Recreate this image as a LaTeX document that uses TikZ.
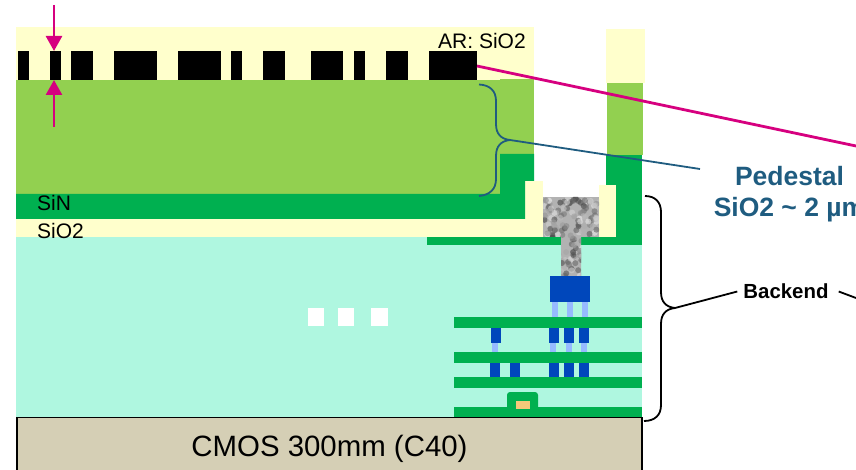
\documentclass[tikz,border=0pt]{standalone}
\usepackage{fontspec}
\setmainfont{Liberation Sans}
\usetikzlibrary{arrows.meta,positioning}
\definecolor{Cream}{HTML}{FFFFCC}
\definecolor{Oxide}{HTML}{92D050}
\definecolor{Nitride}{HTML}{00B050}
\definecolor{Teal}{HTML}{AFF7E0}
\definecolor{Metal}{HTML}{0047BB}
\definecolor{Via}{HTML}{96BBFF}
\definecolor{Gate}{HTML}{F5C97A}
\definecolor{Sub}{HTML}{D5CFB5}
\definecolor{Pink}{HTML}{D6007F}
\definecolor{Navy}{HTML}{1F5C80}

\begin{document}
\begin{tikzpicture}[
  x=1pt, y=-1pt,
  >=Latex,
  lbl/.style={inner sep=0pt, font=\fontsize{21}{24}\selectfont},
  pedcap/.style={inner sep=0pt, align=center, text=Navy, font=\fontsize{26.5}{31}\selectfont\bfseries},
  pinkarr/.style={-{Triangle[length=15pt,width=16pt]}, line width=2.6pt, draw=Pink},
  bluebr/.style={line width=1.8pt, draw=Navy},
  blackbr/.style={line width=1.8pt, draw=black},
]
\useasboundingbox (0,0) rectangle (856,470);
% layers
\fill[Cream] (16,27) rectangle (534,80);
\foreach \a/\b in {18/29,50/61,71/93,114/157,178/221,231/242,263/285,311/343,354/365,386/408}
  \fill[black] (\a,51) rectangle (\b,80);
\fill[black] (429,51) rectangle (477,82);
\fill[Oxide] (16,80) rectangle (500,194);
\fill[Oxide] (500,79) rectangle (534,154);
\fill[Teal] (16,237) rectangle (642,417);
\fill[Cream] (16,219) rectangle (543,237);
\fill[Cream] (525,181) rectangle (543,219);
\fill[Nitride] (16,194) -- (500,194) -- (500,154) -- (534,154) -- (534,181) -- (525,181) -- (525,219) -- (16,219) -- cycle;
\fill[Nitride] (427,237) rectangle (642,245);
% right column
\fill[Cream] (606,29) rectangle (645,83);
\fill[Oxide] (607,83) rectangle (643,155);
\fill[Nitride] (606,155) rectangle (642,245);
\fill[Cream] (599,185) rectangle (616,237);
% tungsten plug
\begin{scope}
  \clip (543,197) rectangle (599,237) (561,237) rectangle (581,276);
  \fill[black!30] (543,197) rectangle (599,276);
  \pgfmathsetseed{17}
  \foreach \i in {1,...,210}{
    \pgfmathsetmacro{\px}{543+56*rnd}
    \pgfmathsetmacro{\py}{197+79*rnd}
    \pgfmathsetmacro{\tn}{int(5+70*rnd)}
    \fill[black!\tn, opacity=0.6] (\px,\py) circle (3pt);
  }
\end{scope}
% metal levels
\foreach \a/\b in {317/328,352/363,377/388,407/417}
  \fill[Nitride] (454,\a) rectangle (642,\b);
\fill[Nitride, rounded corners=3pt] (507,410) -- (507,392) -- (538,392) -- (538,410) -- cycle;
\fill[Gate] (515.5,401) rectangle (529.5,409);
\fill[Metal] (550,276) rectangle (590,302);
\foreach \a in {552,567,582}
  \fill[Via] (\a,302) rectangle (\a+6,317);
\foreach \a in {491,549,564,579}
  \fill[Metal] (\a,328) rectangle (\a+10,343);
\foreach \a in {492,550,566,581}
  \fill[Via] (\a,343) rectangle (\a+6,352);
\foreach \a in {490,510,549,564,579}
  \fill[Metal] (\a,363) rectangle (\a+10,377);
\foreach \a/\b in {308/324,338/354,371/388}
  \fill[white] (\a,308) rectangle (\b,326);
% substrate
\node[draw=black, line width=1.5pt, fill=Sub, minimum width=625pt, minimum height=54pt, inner sep=0pt, text height=23pt, text depth=0pt, font=\fontsize{29.4}{32}\selectfont] (cmos) at (329.5,444.5) {CMOS 300mm (C40)};
% labels
\node[lbl, anchor=west] (sin) at (37,203) {SiN};
\node[lbl, anchor=west] (sio) at (37,231) {SiO2};
\node[lbl, anchor=west] (ar) at (438,40.5) {AR: SiO2};
\node[pedcap] (ped) at (789.5,194.5) {Pedestal\\SiO2 \textasciitilde{} 2 µm};
\node[inner sep=0pt, font=\fontsize{20.4}{24}\selectfont\bfseries] (bk) at (786,291.5) {Backend};
% pink arrows
\coordinate (topa) at (54,5);
\coordinate (topb) at (54,51);
\coordinate (bota) at (54,127);
\coordinate (botb) at (54,80);
\coordinate (barend) at (477,66);
\coordinate (edge) at (856,146);
\draw[pinkarr] (topa) -- (topb);
\draw[pinkarr] (bota) -- (botb);
\draw[line width=2.8pt, draw=Pink] (barend) -- (edge);
% braces
\coordinate (blue) at (510,140);
\coordinate (bluend) at (700,169);
\draw[bluebr] (479,84.5) .. controls (490,85) and (496,91) .. (496,101) -- (496,124) .. controls (496,134) and (501,139) .. (blue);
\draw[bluebr] (blue) .. controls (501,141) and (496,146) .. (496,156) -- (496,179) .. controls (496,189) and (490,195) .. (479,196);
\draw[bluebr] (blue) -- (bluend);
\coordinate (tip) at (675,308);
\coordinate (bkend) at (856,298);
\draw[blackbr] (645,196) .. controls (655,196) and (661,202) .. (661,212) -- (661,292) .. controls (661,302) and (666,307) .. (tip);
\draw[blackbr] (tip) .. controls (666,309) and (661,314) .. (661,324) -- (661,405) .. controls (661,415) and (655,421) .. (644,421);
\draw[blackbr] (tip) -- ([xshift=-6pt]bk.west);
\draw[blackbr] ([xshift=10pt]bk.east) -- (bkend);
\end{tikzpicture}
\end{document}
